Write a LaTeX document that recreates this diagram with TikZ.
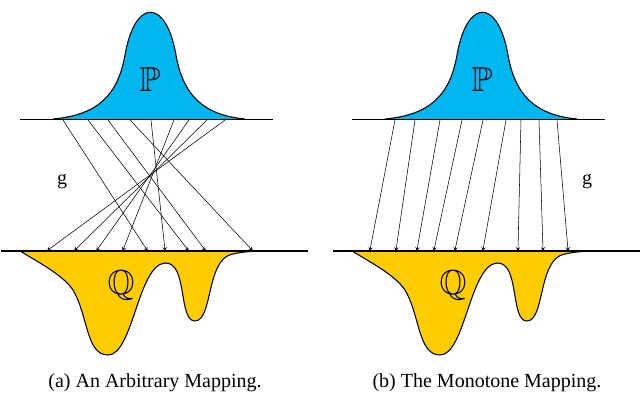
\documentclass[tikz,border=0pt]{standalone}
\usepackage{fontspec}
\setmainfont{Liberation Serif}
\usepackage{amssymb}
\usetikzlibrary{arrows}
\definecolor{pblue}{RGB}{0,183,240}
\definecolor{qyellow}{RGB}{255,204,0}
\tikzset{
    map/.style={-stealth,thin,shorten >=-1pt},
    lbl/.style={font=\fontsize{15}{15}\selectfont},
    sym/.style={font=\fontsize{26}{26}\selectfont}
}
\newcommand\drawdensities{%
    % P density
    \fill[pblue] (385,119) .. controls (430,115) and (450,95) .. (457,55) .. controls (467,-2) and (498,-2) .. (508,55) .. controls (515,95) and (535,115) .. (577,119) -- cycle;
    \draw[thick] (385,119) .. controls (430,115) and (450,95) .. (457,55) .. controls (467,-2) and (498,-2) .. (508,55) .. controls (515,95) and (535,115) .. (577,119);
    % Q density
    \fill[qyellow] (352,251) .. controls (370,262) and (395,275) .. (405,290) .. controls (420,315) and (418,355) .. (440,355) .. controls (465,355) and (470,265) .. (497,263) .. controls (520,262) and (510,321) .. (527,321) .. controls (545,321) and (538,258) .. (565,254) .. controls (575,252) .. (590,251) -- cycle;
    \draw[thick] (352,251) .. controls (370,262) and (395,275) .. (405,290) .. controls (420,315) and (418,355) .. (440,355) .. controls (465,355) and (470,265) .. (497,263) .. controls (520,262) and (510,321) .. (527,321) .. controls (545,321) and (538,258) .. (565,254) .. controls (575,252) .. (590,251);
    % Axes
    \draw (352,119) -- (605,119);
    \draw[very thick] (333,251) -- (640,251);
}

\begin{document}
\begin{tikzpicture}[x=0.75pt,y=-0.75pt]
    \useasboundingbox (0,0) rectangle (640,400);
    % Left panel
    \begin{scope}[shift={(-332,0)}]
        \drawdensities
        \node[sym] (P1) at (482,80) {$\mathbb{P}$};
        \node[sym] (Q1) at (453,285) {$\mathbb{Q}$};
        \node[lbl] (g1) at (394,182) {g};
        \foreach \a/\b [count=\i] in {395/479,420/520,440/537,462/584,483/497,506/455,521/429,539/407,557/380}{
            \coordinate (s1\i) at (\a,120);
            \coordinate (t1\i) at (\b,250);
            \draw[map] (s1\i) -- (t1\i);
        }
    \end{scope}
    % Right panel
    \drawdensities
    \node[sym] (P2) at (482,80) {$\mathbb{P}$};
    \node[sym] (Q2) at (453,285) {$\mathbb{Q}$};
    \node[lbl] (g2) at (587,182) {g};
    \foreach \a/\b [count=\i] in {395/370,415/396,440/417,462/434,483/455,506/483,521/518,539/543,557/568}{
        \coordinate (s2\i) at (\a,120);
        \coordinate (t2\i) at (\b,250);
        \draw[map] (s2\i) -- (t2\i);
    }
    % Captions
    \node[lbl] (capa) at (155,383) {(a) An Arbitrary Mapping.};
    \node[lbl] (capb) at (487,383) {(b) The Monotone Mapping.};
\end{tikzpicture}
\end{document}
